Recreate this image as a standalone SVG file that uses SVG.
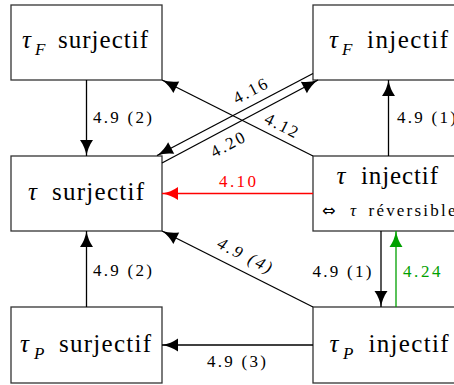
<svg xmlns="http://www.w3.org/2000/svg" width="454" height="385" viewBox="0 0 454 385">
<style>
.box{fill:#fff;stroke:#333;stroke-width:1.3}
.ln{fill:none;stroke:#000;stroke-width:1.3}
.t{font-family:'Liberation Serif','Times New Roman',Times,serif;fill:#000}
.big{font-size:25px}
.it{font-style:italic}
.sub{font-size:17px;font-style:italic}
.lb{font-size:17px}
.sym{font-family:'DejaVu Sans',sans-serif;font-size:16px;fill:#000}
</style>
<defs>
<marker id="ah" markerUnits="userSpaceOnUse" markerWidth="17" markerHeight="14" refX="16" refY="7" orient="auto" overflow="visible">
<path d="M16,7 Q7,8.5 0,13.5 L0,0.5 Q7,5.5 16,7 Z" fill="#000"/>
</marker>
<marker id="ahr" markerUnits="userSpaceOnUse" markerWidth="17" markerHeight="14" refX="16" refY="7" orient="auto" overflow="visible">
<path d="M16,7 Q7,8.5 0,13.5 L0,0.5 Q7,5.5 16,7 Z" fill="#ff0000"/>
</marker>
<marker id="ahg" markerUnits="userSpaceOnUse" markerWidth="17" markerHeight="14" refX="16" refY="7" orient="auto" overflow="visible">
<path d="M16,7 Q7,8.5 0,13.5 L0,0.5 Q7,5.5 16,7 Z" fill="#00a000"/>
</marker>
</defs>

<g id="n-tf-surj">
<rect class="box" x="11" y="5" width="151" height="75"/>
<text class="t big it" x="22" y="48">τ</text>
<text class="t sub" x="35" y="55">F</text>
<text class="t big" x="58" y="48" textLength="90" lengthAdjust="spacing">surjectif</text>
</g>
<g id="n-tf-inj">
<rect class="box" x="313" y="5" width="151" height="75"/>
<text class="t big it" x="329" y="48">τ</text>
<text class="t sub" x="342" y="55">F</text>
<text class="t big" x="367" y="48" textLength="81" lengthAdjust="spacing">injectif</text>
</g>
<g id="n-t-surj">
<rect class="box" x="11" y="156" width="151" height="75"/>
<text class="t big it" x="28" y="200">τ</text>
<text class="t big" x="52" y="200" textLength="92" lengthAdjust="spacing">surjectif</text>
</g>
<g id="n-t-inj">
<rect class="box" x="313" y="156" width="151" height="75"/>
<text class="t big it" x="336.5" y="184">τ</text>
<text class="t big" x="361" y="184" textLength="77" lengthAdjust="spacing">injectif</text>
<text class="sym" x="322" y="216">⇔</text>
<text class="t lb it" x="350" y="216">τ</text>
<text class="t lb" x="368.5" y="216" textLength="87" lengthAdjust="spacing">réversible</text>
</g>
<g id="n-tp-surj">
<rect class="box" x="11" y="307" width="151" height="76"/>
<text class="t big it" x="20" y="352">τ</text>
<text class="t sub" x="34" y="359">P</text>
<text class="t big" x="59" y="352" textLength="92" lengthAdjust="spacing">surjectif</text>
</g>
<g id="n-tp-inj">
<rect class="box" x="313" y="307" width="151" height="76"/>
<text class="t big it" x="329.5" y="352">τ</text>
<text class="t sub" x="343" y="359">P</text>
<text class="t big" x="368.5" y="352" textLength="80" lengthAdjust="spacing">injectif</text>
</g>

<g id="connectors">
<line class="ln" x1="86.5" y1="80" x2="86.5" y2="156" marker-end="url(#ah)"/>
<line class="ln" x1="86.5" y1="307" x2="86.5" y2="231" marker-end="url(#ah)"/>
<line class="ln" x1="388.5" y1="156" x2="388.5" y2="80" marker-end="url(#ah)"/>
<line class="ln" x1="381" y1="231" x2="381" y2="307" marker-end="url(#ah)"/>
<line class="ln" x1="396" y1="307" x2="396" y2="231" style="stroke:#00a000" marker-end="url(#ahg)"/>
<line class="ln" x1="313" y1="193.5" x2="162" y2="193.5" style="stroke:#ff0000" marker-end="url(#ahr)"/>
<line class="ln" x1="313" y1="345" x2="162" y2="345" marker-end="url(#ah)"/>
<line class="ln" x1="313" y1="307" x2="162" y2="231" marker-end="url(#ah)"/>
<line class="ln" x1="313" y1="156" x2="162" y2="80" marker-end="url(#ah)"/>
<line class="ln" x1="313" y1="73.5" x2="157" y2="155.5" marker-end="url(#ah)"/>
<line class="ln" x1="162" y1="163" x2="318" y2="80" marker-end="url(#ah)"/>

<text class="t lb" x="93" y="123" textLength="59" lengthAdjust="spacing">4.9 (2)</text>
<text class="t lb" x="397" y="123" textLength="59" lengthAdjust="spacing">4.9 (1)</text>
<text class="t lb" x="93" y="276" textLength="59" lengthAdjust="spacing">4.9 (2)</text>
<text class="t lb" x="312.5" y="277" textLength="59" lengthAdjust="spacing">4.9 (1)</text>
<text class="t lb" x="403" y="277" textLength="37.5" lengthAdjust="spacing" style="fill:#00a000">4.24</text>
<text class="t lb" x="219" y="187" textLength="37" lengthAdjust="spacing" style="fill:#ff0000">4.10</text>
<text class="t lb" x="207" y="367" textLength="59" lengthAdjust="spacing">4.9 (3)</text>
<text class="t lb" transform="translate(250,90.5) rotate(-27.7)" x="0" y="6" text-anchor="middle" textLength="36" lengthAdjust="spacing">4.16</text>
<text class="t lb" transform="translate(227.5,144.2) rotate(-27.7)" x="0" y="6" text-anchor="middle" textLength="36" lengthAdjust="spacing">4.20</text>
<text class="t lb" transform="translate(281.7,125) rotate(26.7)" x="0" y="6" text-anchor="middle" textLength="35" lengthAdjust="spacing">4.12</text>
<text class="t lb it" transform="translate(245,255) rotate(26.7)" x="0" y="6" text-anchor="middle" textLength="59" lengthAdjust="spacing">4.9 (4)</text>
</g>
</svg>
